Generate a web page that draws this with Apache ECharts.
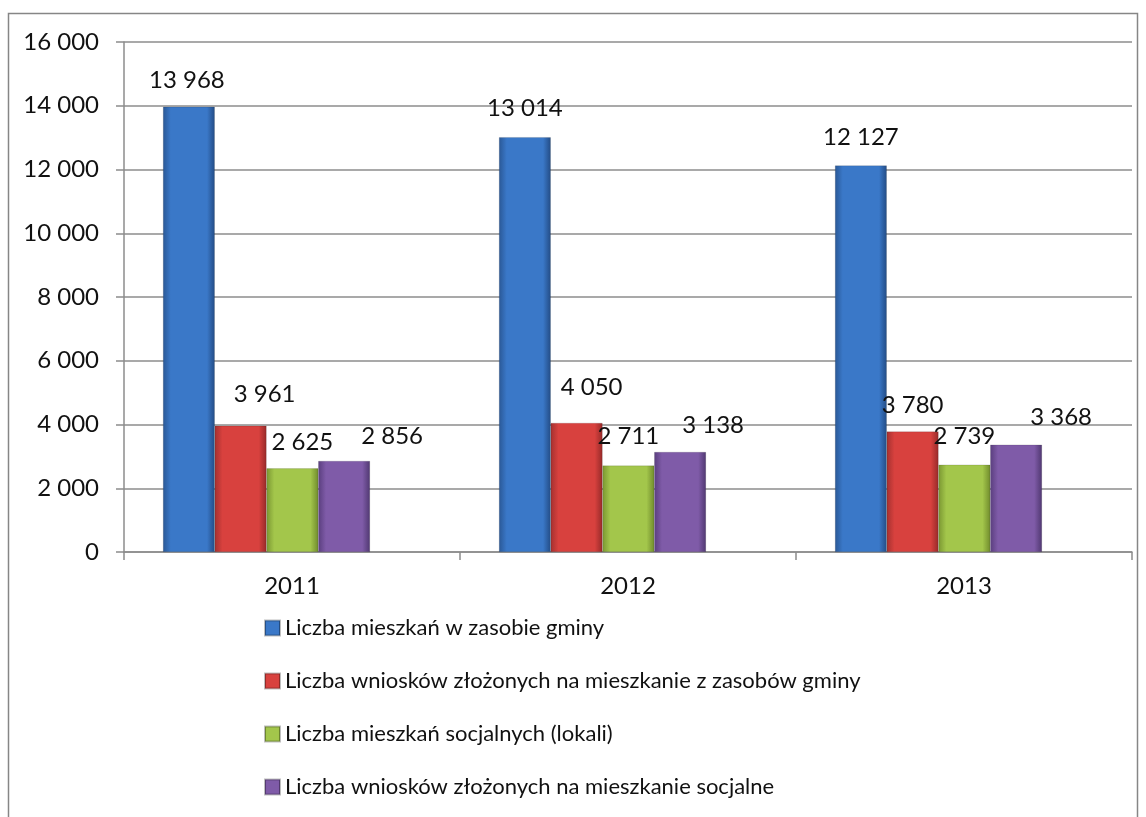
<!DOCTYPE html>
<html>
<head>
<meta charset="utf-8">
<script src="https://cdn.jsdelivr.net/npm/echarts@6/dist/echarts.min.js"></script>
<style>
  html, body { margin: 0; padding: 0; background: #fff; }
  #chart { width: 1146px; height: 817px; }
</style>
</head>
<body>
<div id="chart"></div>
<script>
const years = ['2011', '2012', '2013']
const seriesNames = [
  'Liczba mieszkań w zasobie gminy',
  'Liczba wniosków złożonych na mieszkanie z zasobów gminy',
  'Liczba mieszkań socjalnych (lokali)',
  'Liczba wniosków złożonych na mieszkanie socjalne'
]
const mieszkaniaGminy = [13968, 13014, 12127]
const wnioskiGminy = [3961, 4050, 3780]
const mieszkaniaSocjalne = [2625, 2711, 2739]
const wnioskiSocjalne = [2856, 3138, 3368]
const yTicks = [0, 2000, 4000, 6000, 8000, 10000, 12000, 14000, 16000]

const FONT = 'Lato'
const grey = '#8c8c8c'

function fmt(v) {
  return String(v).replace(/\B(?=(\d{3})+(?!\d))/g, ' ')
}

// bevelled look: dark edges, lighter middle
function bevel(edgeL, mid, edgeR) {
  return new echarts.graphic.LinearGradient(0, 0, 1, 0, [
    { offset: 0, color: edgeL },
    { offset: 0.15, color: mid },
    { offset: 0.85, color: mid },
    { offset: 1, color: edgeR }
  ])
}

const styles = [
  { color: bevel('#2a5896', '#3a78c8', '#234c85'), shift: [[-2, 27], [0, 29], [0, 28]] },
  { color: bevel('#a53130', '#d8413e', '#962a29'), shift: [[24, 31], [15, 36], [0, 26]] },
  { color: bevel('#7a9732', '#a3c64b', '#718c2d'), shift: [[10, 26], [0, 29], [0, 28]] },
  { color: bevel('#5a3e7e', '#7f5ba8', '#503871'), shift: [[48, 25], [33, 27], [45, 27]] }
]
const values = [mieszkaniaGminy, wnioskiGminy, mieszkaniaSocjalne, wnioskiSocjalne]

const series = values.map((vals, s) => ({
  name: seriesNames[s],
  type: 'bar',
  xAxisIndex: 1,
  yAxisIndex: 1,
  barGap: '0%',
  barCategoryGap: '38.4%',
  itemStyle: { color: styles[s].color, borderColor: 'rgba(0,0,0,0.25)', borderWidth: 0.5 },
  label: {
    show: true,
    position: 'top',
    distance: 0,
    fontFamily: FONT,
    fontSize: 24,
    lineHeight: 24,
    color: '#111',
    formatter: p => fmt(p.value)
  },
  data: vals.map((v, i) => ({
    value: v,
    label: { offset: [styles[s].shift[i][0], -(styles[s].shift[i][1] - 12)] }
  }))
}))

const chart = echarts.init(document.getElementById('chart'))
chart.setOption({
  animation: false,
  textStyle: { fontFamily: FONT },
  graphic: [{
    type: 'rect',
    shape: { x: 8.5, y: 13.5, width: 1129, height: 900 },
    style: { fill: 'none', stroke: '#868686', lineWidth: 1.5 },
    silent: true
  }],
  grid: [
    { left: 124, right: 14, top: 42, bottom: 265 },
    { left: 98.5, right: 39.5, top: 42, bottom: 265 }
  ],
  xAxis: [
    {
      gridIndex: 0,
      type: 'category',
      data: years,
      axisLine: { lineStyle: { color: grey, width: 1.5 } },
      axisTick: { show: true, length: 8, lineStyle: { color: grey, width: 1.5 } },
      axisLabel: { fontFamily: FONT, fontSize: 24, color: '#111', margin: 22 }
    },
    {
      gridIndex: 1,
      type: 'category',
      data: years,
      show: false
    }
  ],
  yAxis: [
    {
      gridIndex: 0,
      type: 'value',
      min: yTicks[0],
      max: yTicks[yTicks.length - 1],
      interval: 2000,
      axisLine: { show: true, lineStyle: { color: grey, width: 1.5 } },
      axisTick: { show: true, length: 8, lineStyle: { color: grey, width: 1.5 } },
      splitLine: { lineStyle: { color: grey, width: 1.5 } },
      axisLabel: { fontFamily: FONT, fontSize: 24, color: '#111', margin: 25, formatter: v => fmt(v) }
    },
    {
      gridIndex: 1,
      type: 'value',
      min: yTicks[0],
      max: yTicks[yTicks.length - 1],
      interval: 2000,
      show: false,
      splitLine: { show: false }
    }
  ],
  legend: {
    orient: 'vertical',
    left: 259,
    top: 612,
    itemWidth: 15,
    itemHeight: 15,
    itemGap: 31,
    icon: 'rect',
    textStyle: { fontFamily: FONT, fontSize: 22, color: '#111', lineHeight: 22 },
    data: seriesNames
  },
  series: series
})
</script>
</body>
</html>
